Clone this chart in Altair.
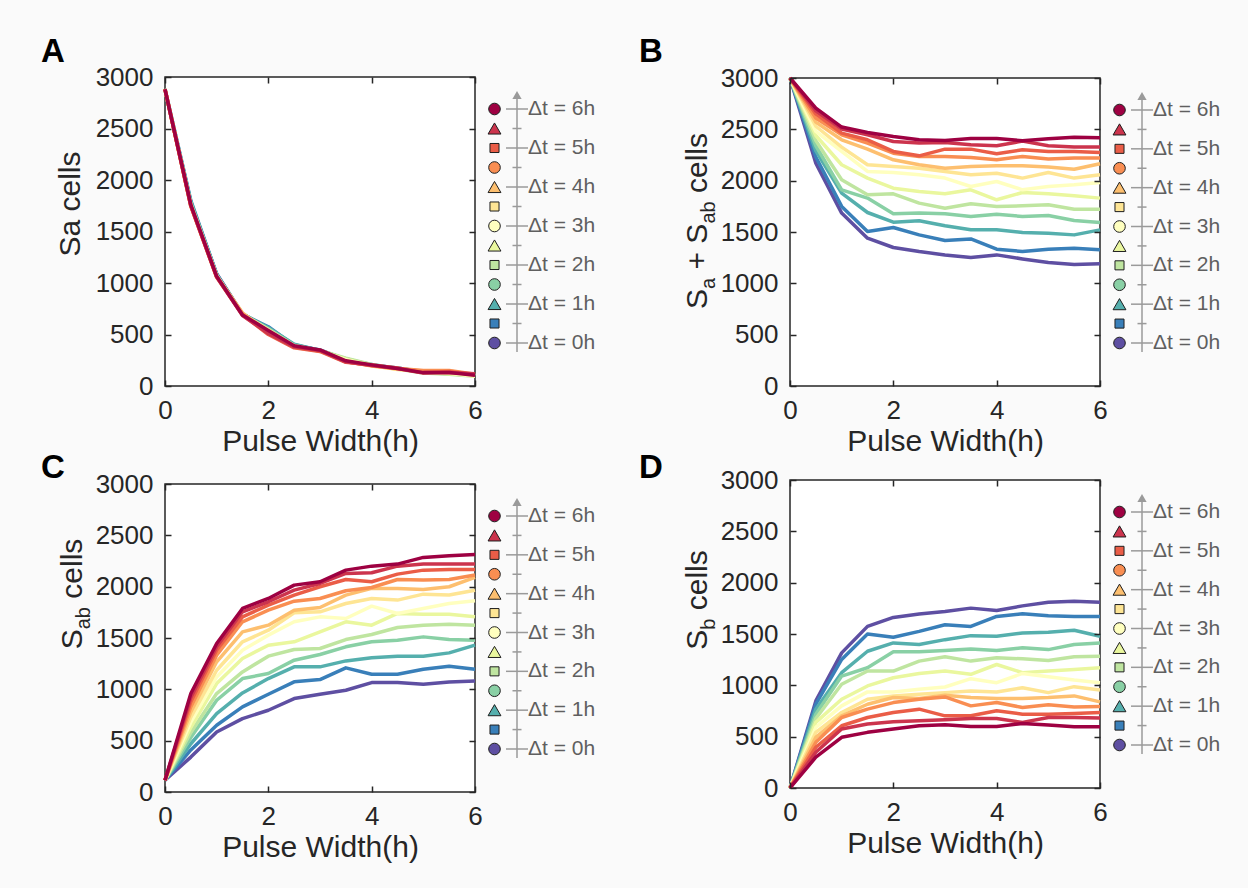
import altair as alt
import pandas as pd

W, H = 1248, 888
INK = "#262626"
GRAY = "#9a9a9a"
LEG_TXT = "#5f5f5f"
BG = "#fafafa"
FONT = "Liberation Sans"

# ---------------- data ----------------
pulse_width = [0, 0.5, 1, 1.5, 2, 2.5, 3, 3.5, 4, 4.5, 5, 5.5, 6]
delta_t = [0, 0.5, 1, 1.5, 2, 2.5, 3, 3.5, 4, 4.5, 5, 5.5, 6]
x_ticks = [0, 2, 4, 6]
y_ticks = [0, 500, 1000, 1500, 2000, 2500, 3000]

# one list per delta t (0h first, 6h last)
sa_cells = [
    [2880, 1780, 1090, 700, 560, 400, 345, 250, 205, 175, 135, 125, 105],
    [2885, 1800, 1085, 695, 575, 395, 350, 255, 210, 170, 130, 130, 100],
    [2880, 1790, 1080, 700, 565, 405, 345, 260, 200, 175, 135, 125, 105],
    [2875, 1770, 1075, 690, 555, 395, 340, 265, 205, 170, 130, 120, 100],
    [2880, 1765, 1070, 700, 550, 390, 345, 270, 210, 165, 125, 115, 95],
    [2880, 1760, 1065, 695, 545, 385, 340, 260, 200, 170, 140, 120, 100],
    [2885, 1755, 1070, 690, 540, 390, 335, 255, 195, 165, 135, 125, 95],
    [2880, 1750, 1060, 700, 535, 385, 340, 245, 200, 160, 140, 140, 100],
    [2880, 1750, 1065, 710, 520, 380, 345, 240, 195, 165, 145, 145, 110],
    [2885, 1745, 1060, 700, 510, 375, 340, 235, 200, 170, 150, 150, 115],
    [2880, 1745, 1055, 690, 500, 370, 335, 230, 205, 175, 130, 140, 110],
    [2880, 1750, 1060, 685, 510, 380, 345, 235, 200, 170, 125, 130, 120],
    [2880, 1760, 1065, 690, 540, 390, 350, 245, 205, 170, 130, 130, 105],
]

sa_plus_sab_cells = [
    [3000, 2170, 1684, 1440, 1349, 1310, 1277, 1251, 1277, 1238, 1203, 1183, 1190],
    [3000, 2230, 1749, 1505, 1544, 1472, 1417, 1433, 1333, 1310, 1333, 1342, 1326],
    [3000, 2290, 1879, 1690, 1596, 1609, 1560, 1521, 1521, 1495, 1489, 1472, 1521],
    [3000, 2340, 1911, 1830, 1677, 1684, 1677, 1651, 1674, 1651, 1661, 1612, 1593],
    [3000, 2390, 2009, 1862, 1872, 1781, 1732, 1775, 1749, 1755, 1765, 1722, 1722],
    [3000, 2440, 2155, 2025, 1927, 1895, 1872, 1911, 1814, 1885, 1872, 1853, 1830],
    [3000, 2480, 2285, 2090, 2080, 2057, 2025, 1943, 1992, 1911, 1943, 1960, 1983],
    [3000, 2530, 2327, 2155, 2138, 2122, 2090, 2057, 2073, 2025, 2080, 2025, 2057],
    [3000, 2570, 2398, 2307, 2203, 2155, 2122, 2138, 2145, 2145, 2132, 2112, 2165],
    [3000, 2610, 2447, 2366, 2268, 2236, 2236, 2226, 2203, 2236, 2210, 2220, 2220],
    [3000, 2650, 2463, 2398, 2285, 2242, 2307, 2307, 2262, 2301, 2285, 2285, 2275],
    [3000, 2680, 2502, 2447, 2382, 2366, 2372, 2350, 2340, 2385, 2340, 2327, 2327],
    [3000, 2707, 2522, 2470, 2431, 2398, 2392, 2411, 2411, 2389, 2408, 2424, 2418],
]

sab_cells = [
    [115, 340, 585, 715, 796, 910, 952, 991, 1066, 1066, 1050, 1072, 1082],
    [115, 410, 650, 829, 952, 1073, 1095, 1209, 1147, 1147, 1196, 1225, 1196],
    [115, 470, 764, 965, 1105, 1219, 1219, 1277, 1307, 1323, 1323, 1355, 1430],
    [115, 530, 894, 1105, 1154, 1284, 1339, 1414, 1463, 1479, 1511, 1485, 1479],
    [115, 580, 959, 1170, 1323, 1388, 1398, 1485, 1534, 1602, 1625, 1635, 1625],
    [115, 630, 1056, 1300, 1430, 1463, 1560, 1658, 1625, 1739, 1732, 1732, 1706],
    [115, 680, 1121, 1381, 1528, 1658, 1706, 1690, 1810, 1739, 1788, 1836, 1862],
    [115, 730, 1186, 1463, 1576, 1745, 1755, 1836, 1885, 1869, 1927, 1918, 1966],
    [115, 780, 1268, 1560, 1625, 1771, 1797, 1918, 1983, 1983, 1973, 1999, 2090],
    [115, 830, 1333, 1658, 1771, 1859, 1885, 1960, 1992, 2070, 2064, 2070, 2113],
    [115, 880, 1381, 1706, 1820, 1918, 1999, 2070, 2048, 2122, 2161, 2168, 2168],
    [115, 920, 1414, 1755, 1853, 1966, 2031, 2129, 2135, 2200, 2220, 2220, 2220],
    [115, 960, 1446, 1788, 1885, 2015, 2048, 2161, 2200, 2220, 2285, 2301, 2314],
]

sb_cells = [
    [0, 848, 1316, 1574, 1661, 1694, 1719, 1752, 1729, 1774, 1810, 1819, 1810],
    [0, 816, 1252, 1500, 1468, 1526, 1590, 1574, 1671, 1697, 1677, 1671, 1671],
    [0, 768, 1123, 1332, 1413, 1397, 1445, 1484, 1478, 1510, 1516, 1536, 1478],
    [0, 719, 1090, 1171, 1326, 1326, 1339, 1355, 1339, 1365, 1348, 1397, 1413],
    [0, 677, 1010, 1139, 1139, 1236, 1278, 1236, 1268, 1258, 1242, 1278, 1284],
    [0, 639, 865, 994, 1074, 1116, 1139, 1107, 1203, 1123, 1139, 1155, 1171],
    [0, 590, 800, 936, 936, 961, 984, 1065, 1026, 1116, 1084, 1052, 1026],
    [0, 542, 736, 865, 897, 913, 929, 945, 936, 977, 929, 987, 955],
    [0, 494, 703, 816, 881, 871, 903, 881, 871, 871, 881, 897, 839],
    [0, 445, 687, 768, 832, 865, 887, 800, 832, 784, 810, 790, 794],
    [0, 397, 606, 687, 736, 768, 703, 703, 752, 719, 719, 726, 736],
    [0, 348, 574, 623, 645, 655, 665, 677, 677, 639, 687, 687, 681],
    [0, 300, 494, 542, 574, 606, 616, 600, 600, 629, 613, 597, 597],
]

# ---------------- styles ----------------
series_colors = ["#5e4fa2", "#397fb9", "#55afad", "#89d0a5", "#bfe5a0", "#eaf79e",
                 "#ffffbf", "#fee594", "#fdbf6f", "#f98e52", "#ea5d47", "#cc344d", "#9e0142"]
series_shapes = ["circle", "square", "triangle-up"] * 4 + ["circle"]
shape_size = {"circle": 135, "square": 82, "triangle-up": 165}

ADV = {"S": .667, "a": .556, "b": .556, " ": .278, "+": .584, "c": .5, "e": .556,
       "l": .222, "s": .5}


def text_width(t, size):
    return sum(ADV.get(ch, .556) for ch in t) * size


panels = [
    dict(values=sa_cells, L=165, R=475, T=77, B=386, letter="A", lxy=(41, 62),
         title=[("Sa", False), (" ", False), ("cells", False)], bx=80, cy=204),
    dict(values=sa_plus_sab_cells, L=790, R=1100, T=78, B=386, letter="B", lxy=(639, 62),
         title=[("S", False), ("a", True), (" ", False), ("+", False), (" ", False), ("S", False),
                ("ab", True), (" ", False), ("cells", False)], bx=707, cy=221),
    dict(values=sab_cells, L=165, R=475, T=484, B=792, letter="C", lxy=(41, 478),
         title=[("S", False), ("ab", True), (" ", False), ("cells", False)], bx=82, cy=594),
    dict(values=sb_cells, L=790, R=1100, T=480, B=788, letter="D", lxy=(639, 478),
         title=[("S", False), ("b", True), (" ", False), ("cells", False)], bx=707, cy=600),
]

dummy = pd.DataFrame({"a": [0]})
box = pd.DataFrame({"x0": [0], "x1": [6], "y0": [0], "y1": [3000]})
color_scale = alt.Scale(domain=delta_t, range=series_colors)

tick_axis = dict(labels=False, domain=False, ticks=True, tickSize=6, tickColor=INK,
                 tickWidth=1.5, title=None, grid=False, zindex=1)


def panel_layers(p):
    L, R, T, B = p["L"], p["R"], p["T"], p["B"]
    xsc = alt.Scale(domain=[0, 6], range=[L, R], nice=False, zero=False)
    ysc = alt.Scale(domain=[0, 3000], range=[B, T], nice=False, zero=False)
    out = []
    # white plot area, frame, tick labels and x title
    out.append(alt.Chart(box).mark_rect(fill="white", stroke=INK, strokeWidth=1.5).encode(
        x=alt.X("x0:Q", scale=xsc, axis=alt.Axis(
            orient="bottom", offset=B - H, values=x_ticks, ticks=False, domain=False,
            labelPadding=11, labelFlush=False, grid=False, title="Pulse Width(h)",
            titleX=(L + R) / 2, titleY=64, titleBaseline="alphabetic")),
        x2=alt.X2("x1"),
        y=alt.Y("y0:Q", scale=ysc, axis=alt.Axis(
            orient="left", offset=-L, values=y_ticks, format="d", ticks=False, domain=False,
            labelPadding=12, labelFlush=False, grid=False, title=None)),
        y2=alt.Y2("y1"),
    ))
    # inward ticks: bottom + left edges
    out.append(alt.Chart(box).mark_rect(opacity=0).encode(
        x=alt.X("x0:Q", scale=xsc, axis=alt.Axis(orient="top", offset=-B, values=x_ticks, **tick_axis)),
        x2=alt.X2("x1"),
        y=alt.Y("y0:Q", scale=ysc, axis=alt.Axis(orient="right", offset=L - W, values=y_ticks, **tick_axis)),
        y2=alt.Y2("y1"),
    ))
    # inward ticks: top + right edges
    out.append(alt.Chart(box).mark_rect(opacity=0).encode(
        x=alt.X("x0:Q", scale=xsc, axis=alt.Axis(orient="bottom", offset=T - H, values=x_ticks, **tick_axis)),
        x2=alt.X2("x1"),
        y=alt.Y("y0:Q", scale=ysc, axis=alt.Axis(orient="left", offset=-R, values=y_ticks, **tick_axis)),
        y2=alt.Y2("y1"),
    ))
    # data lines
    rows = [{"pw": x, "dt": d, "val": v}
            for d, vals in zip(delta_t, p["values"]) for x, v in zip(pulse_width, vals)]
    df = pd.DataFrame(rows)
    out.append(alt.Chart(df).mark_line(strokeWidth=3.5, strokeJoin="round").encode(
        x=alt.X("pw:Q", scale=xsc, axis=None),
        y=alt.Y("val:Q", scale=ysc, axis=None),
        color=alt.Color("dt:O", scale=color_scale, legend=None),
        order=alt.Order("pw:Q"),
    ))
    # legend (custom arrow-axis with markers)
    leg = pd.DataFrame({
        "dt": delta_t,
        "label": [f"Δt = {int(d)}h" if d == int(d) else "" for d in delta_t],
        "major": [d == int(d) for d in delta_t],
        "hex": series_colors,
        "shape": series_shapes,
        "msize": [shape_size[s] for s in series_shapes],
    })
    lsc = alt.Scale(domain=[0, 6], range=[B - 43, T + 32], nice=False, zero=False)
    mx, ax, lx = R + 19.5, R + 42, R + 53
    out.append(alt.Chart(dummy).mark_rule(color=GRAY, strokeWidth=1.5).encode(
        x=alt.value(ax), y=alt.value(T + 22), y2=alt.value(B - 34)))
    out.append(alt.Chart(dummy).mark_point(shape="triangle-up", filled=True, color=GRAY,
                                           size=85, opacity=1).encode(
        x=alt.value(ax), y=alt.value(T + 18)))
    out.append(alt.Chart(leg).transform_filter("datum.major").mark_rule(
        color=GRAY, strokeWidth=1.5).encode(
        y=alt.Y("dt:Q", scale=lsc, axis=None), x=alt.value(ax - 11), x2=alt.value(ax + 11)))
    out.append(alt.Chart(leg).transform_filter("!datum.major").mark_rule(
        color=GRAY, strokeWidth=1.5).encode(
        y=alt.Y("dt:Q", scale=lsc, axis=None), x=alt.value(ax - 4.5), x2=alt.value(ax + 4.5)))
    out.append(alt.Chart(leg).mark_point(filled=True, stroke="#1e1e1e", strokeWidth=1,
                                         opacity=1).encode(
        y=alt.Y("dt:Q", scale=lsc, axis=None), x=alt.value(mx),
        fill=alt.Fill("hex:N", scale=None),
        shape=alt.Shape("shape:N", scale=None),
        size=alt.Size("msize:Q", scale=None),
    ))
    out.append(alt.Chart(leg).transform_filter("datum.major").mark_text(
        align="left", baseline="middle", font=FONT, fontSize=21, color=LEG_TXT).encode(
        y=alt.Y("dt:Q", scale=lsc, axis=None), x=alt.value(lx), text="label:N"))
    # y title (with subscripts)
    main, sub = 30, 20
    widths = [text_width(t, sub if s else main) for t, s in p["title"]]
    y = p["cy"] + sum(widths) / 2
    for (t, s), w in zip(p["title"], widths):
        if t.strip():
            out.append(alt.Chart(dummy).mark_text(
                text=t, angle=270, align="left", baseline="alphabetic", font=FONT,
                fontSize=sub if s else main, color=INK).encode(
                x=alt.value(p["bx"] + (8 if s else 0)), y=alt.value(y)))
        y -= w
    # panel letter
    out.append(alt.Chart(dummy).mark_text(
        text=p["letter"], align="left", baseline="alphabetic", font=FONT, fontSize=33,
        fontWeight="bold", color="black").encode(
        x=alt.value(p["lxy"][0]), y=alt.value(p["lxy"][1])))
    return out


layers = []
for p in panels:
    layers += panel_layers(p)

chart = alt.layer(*layers).resolve_scale(
    x="independent", y="independent"
).properties(
    width=W, height=H, padding=0, background=BG,
    autosize=alt.AutoSizeParams(type="none"),
).configure_view(
    strokeWidth=0
).configure_axis(
    labelFont=FONT, labelFontSize=26, labelColor=INK,
    titleFont=FONT, titleFontSize=30, titleFontWeight="normal", titleColor=INK,
)

chart.save("out.html", embed_options={"renderer": "svg", "actions": False})
